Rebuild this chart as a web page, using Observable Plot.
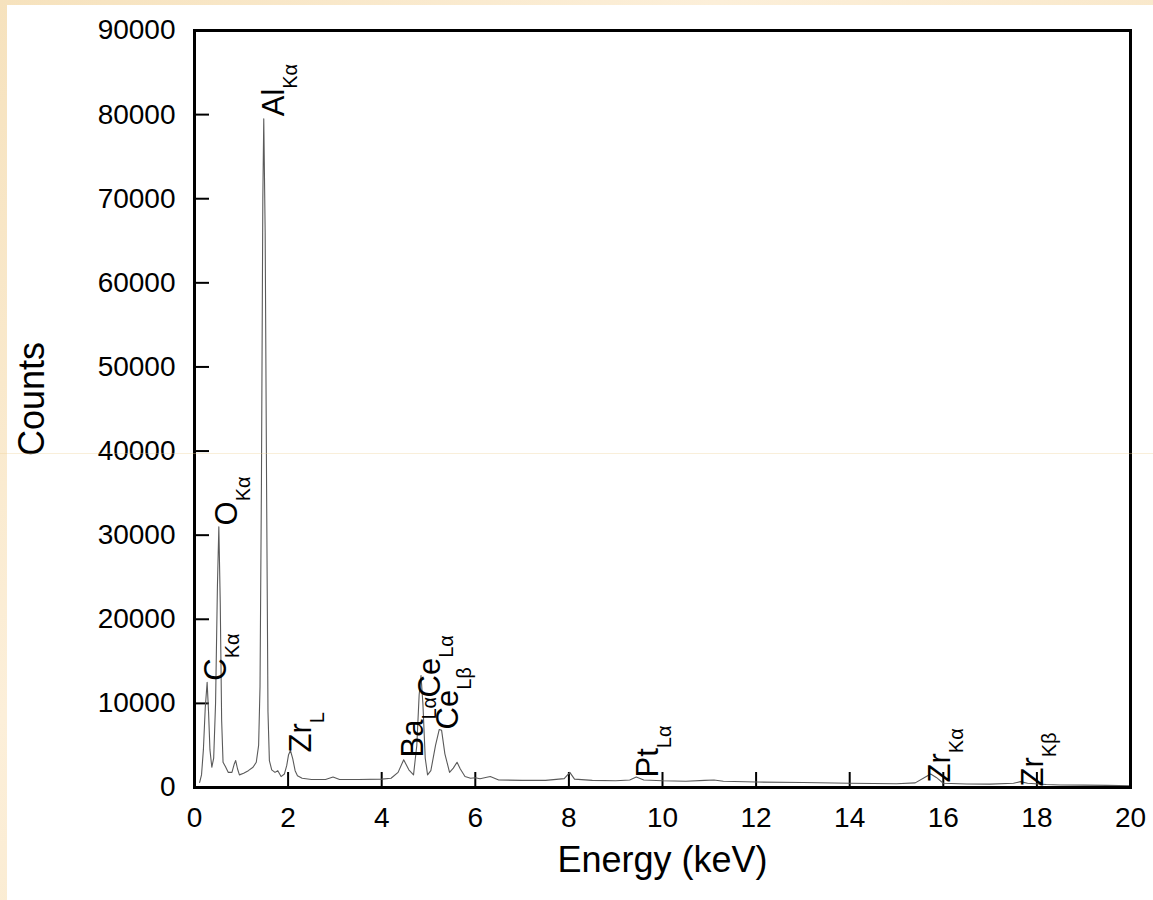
<!DOCTYPE html>
<html>
<head>
<meta charset="utf-8">
<script src="https://cdn.jsdelivr.net/npm/d3@7"></script>
<script src="https://cdn.jsdelivr.net/npm/@observablehq/plot@0.6"></script>
<style>
  html, body { margin: 0; padding: 0; }
  body {
    width: 1153px; height: 900px; overflow: hidden; position: relative;
    background: linear-gradient(135deg, #f6e2bd 0%, #fcefd9 35%, #f8e6c6 65%, #fdf2de 100%);
  }
  #card { position: absolute; left: 7px; top: 5px; width: 1146px; height: 895px; background: #fff; }
  #seam { position: absolute; left: 0; top: 453px; width: 1153px; height: 1px; background: rgba(238, 210, 150, 0.35); }
</style>
</head>
<body>
<div id="card"></div>
<div id="seam"></div>
<script>
// EDS spectrum: energy (keV) and counts
const energy = [0.11,0.15,0.19,0.23,0.27,0.30,0.33,0.37,0.41,0.45,0.49,0.52,0.55,0.58,0.61,0.66,0.72,0.80,0.85,0.88,0.92,0.96,1.05,1.15,1.25,1.32,1.37,1.40,1.43,1.46,1.48,1.51,1.54,1.57,1.60,1.65,1.72,1.78,1.85,1.92,1.97,2.01,2.05,2.10,2.15,2.20,2.30,2.50,2.80,2.96,3.10,3.50,4.00,4.20,4.35,4.47,4.58,4.68,4.75,4.80,4.84,4.88,4.93,4.98,5.05,5.15,5.23,5.28,5.35,5.45,5.53,5.61,5.68,5.78,5.90,6.00,6.10,6.32,6.50,7.00,7.50,7.90,8.02,8.12,8.50,9.00,9.30,9.44,9.60,10.00,10.50,10.90,11.10,11.30,12.00,13.00,14.00,15.00,15.40,15.60,15.73,15.85,16.00,16.50,17.00,17.50,17.65,17.80,18.20,18.50,19.00,19.50,20.00];
const counts = [600,1500,4500,9500,12500,9000,4500,2400,3500,10000,24000,31000,22000,8000,3000,2500,1800,1800,2800,3200,2200,1500,1700,2000,2400,3000,5000,12000,36000,70000,79500,66000,36000,9000,3200,2100,1800,2000,1300,1600,2600,3900,4400,3400,2000,1400,1100,950,950,1250,950,950,1000,1100,1800,3300,2100,1500,5000,11000,13300,10000,3500,1500,2000,5000,6900,6800,4000,1800,2300,3000,2200,1300,1100,1150,1050,1300,900,850,850,1050,1800,1000,850,800,900,1250,900,800,750,850,900,750,650,600,500,450,550,1200,1600,1200,500,420,400,500,700,500,350,300,280,250,200];

// Peak labels (symbol_subscript) and their anchor in data units
const labelText = ["C_Kα","O_Kα","Al_Kα","Zr_L","Ba_Lα","Ce_Lα","Ce_Lβ","Pt_Lα","Zr_Kα","Zr_Kβ"];
const labelEnergy = [0.68,0.90,1.92,2.48,4.88,5.25,5.64,9.91,16.15,18.12];
const labelCounts = [12700,31150,79800,4160,3570,10700,6900,1190,600,120];

const xTicks = [0,2,4,6,8,10,12,14,16,18,20];
const yTicks = [0,10000,20000,30000,40000,50000,60000,70000,80000,90000];
const xInner = [2,4,6,8,10,12,14,16,18];
const yInner = [10000,20000,30000,40000,50000,60000,70000,80000];

const spectrum = energy.map((e, i) => ({e, c: counts[i]}));
const labels = labelText.map((t, i) => ({t, x: labelEnergy[i], y: labelCounts[i]}));

const W = 1146, H = 895, mL = 187, mR = 23, mT = 25, mB = 113;
const fw = W - mL - mR, fh = H - mT - mB;

const chart = Plot.plot({
  width: W, height: H,
  marginLeft: mL, marginRight: mR, marginTop: mT, marginBottom: mB,
  style: {fontFamily: "'Liberation Sans', Arial, sans-serif", background: "white", color: "black", overflow: "visible"},
  x: {domain: [0, 20]},
  y: {domain: [0, 90000]},
  marks: [
    Plot.axisY(yTicks, {tickSize: 0, tickPadding: 19, fontSize: 28, label: null, tickFormat: d => String(d)}),
    Plot.axisX(xTicks, {tickSize: 0, tickPadding: 20, fontSize: 28, label: null, tickFormat: d => String(d)}),
    Plot.tickY(yInner, {y: d => d, insetRight: fw - 15, strokeWidth: 2, stroke: "black"}),
    Plot.tickX(xInner, {x: d => d, insetTop: fh - 15, strokeWidth: 2, stroke: "black"}),
    Plot.line(spectrum, {x: "e", y: "c", stroke: "#5a5a5a", strokeWidth: 1.1}),
    Plot.frame({stroke: "black", strokeWidth: 3}),
    Plot.text(labels, {x: "x", y: "y", text: "t", rotate: -90, textAnchor: "start", lineAnchor: "bottom", fontSize: 31, fill: "black"}),
    Plot.text(["Counts"], {frameAnchor: "left", textAnchor: "middle", rotate: -90, dx: -176, dy: -10, lineAnchor: "top", fontSize: 36, fill: "black"}),
    Plot.text(["Energy (keV)"], {frameAnchor: "bottom", textAnchor: "middle", lineAnchor: "top", dy: 59, fontSize: 36, fill: "black"})
  ]
});

// turn "Symbol_Sub" into a symbol with a subscript tspan
d3.select(chart).selectAll("text").each(function () {
  const t = this.textContent;
  if (t.includes("_")) {
    const [a, b] = t.split("_");
    this.textContent = a;
    d3.select(this).append("tspan").attr("font-size", 20).attr("dy", 13).text(b);
  }
});

document.getElementById("card").appendChild(chart);
</script>
</body>
</html>
